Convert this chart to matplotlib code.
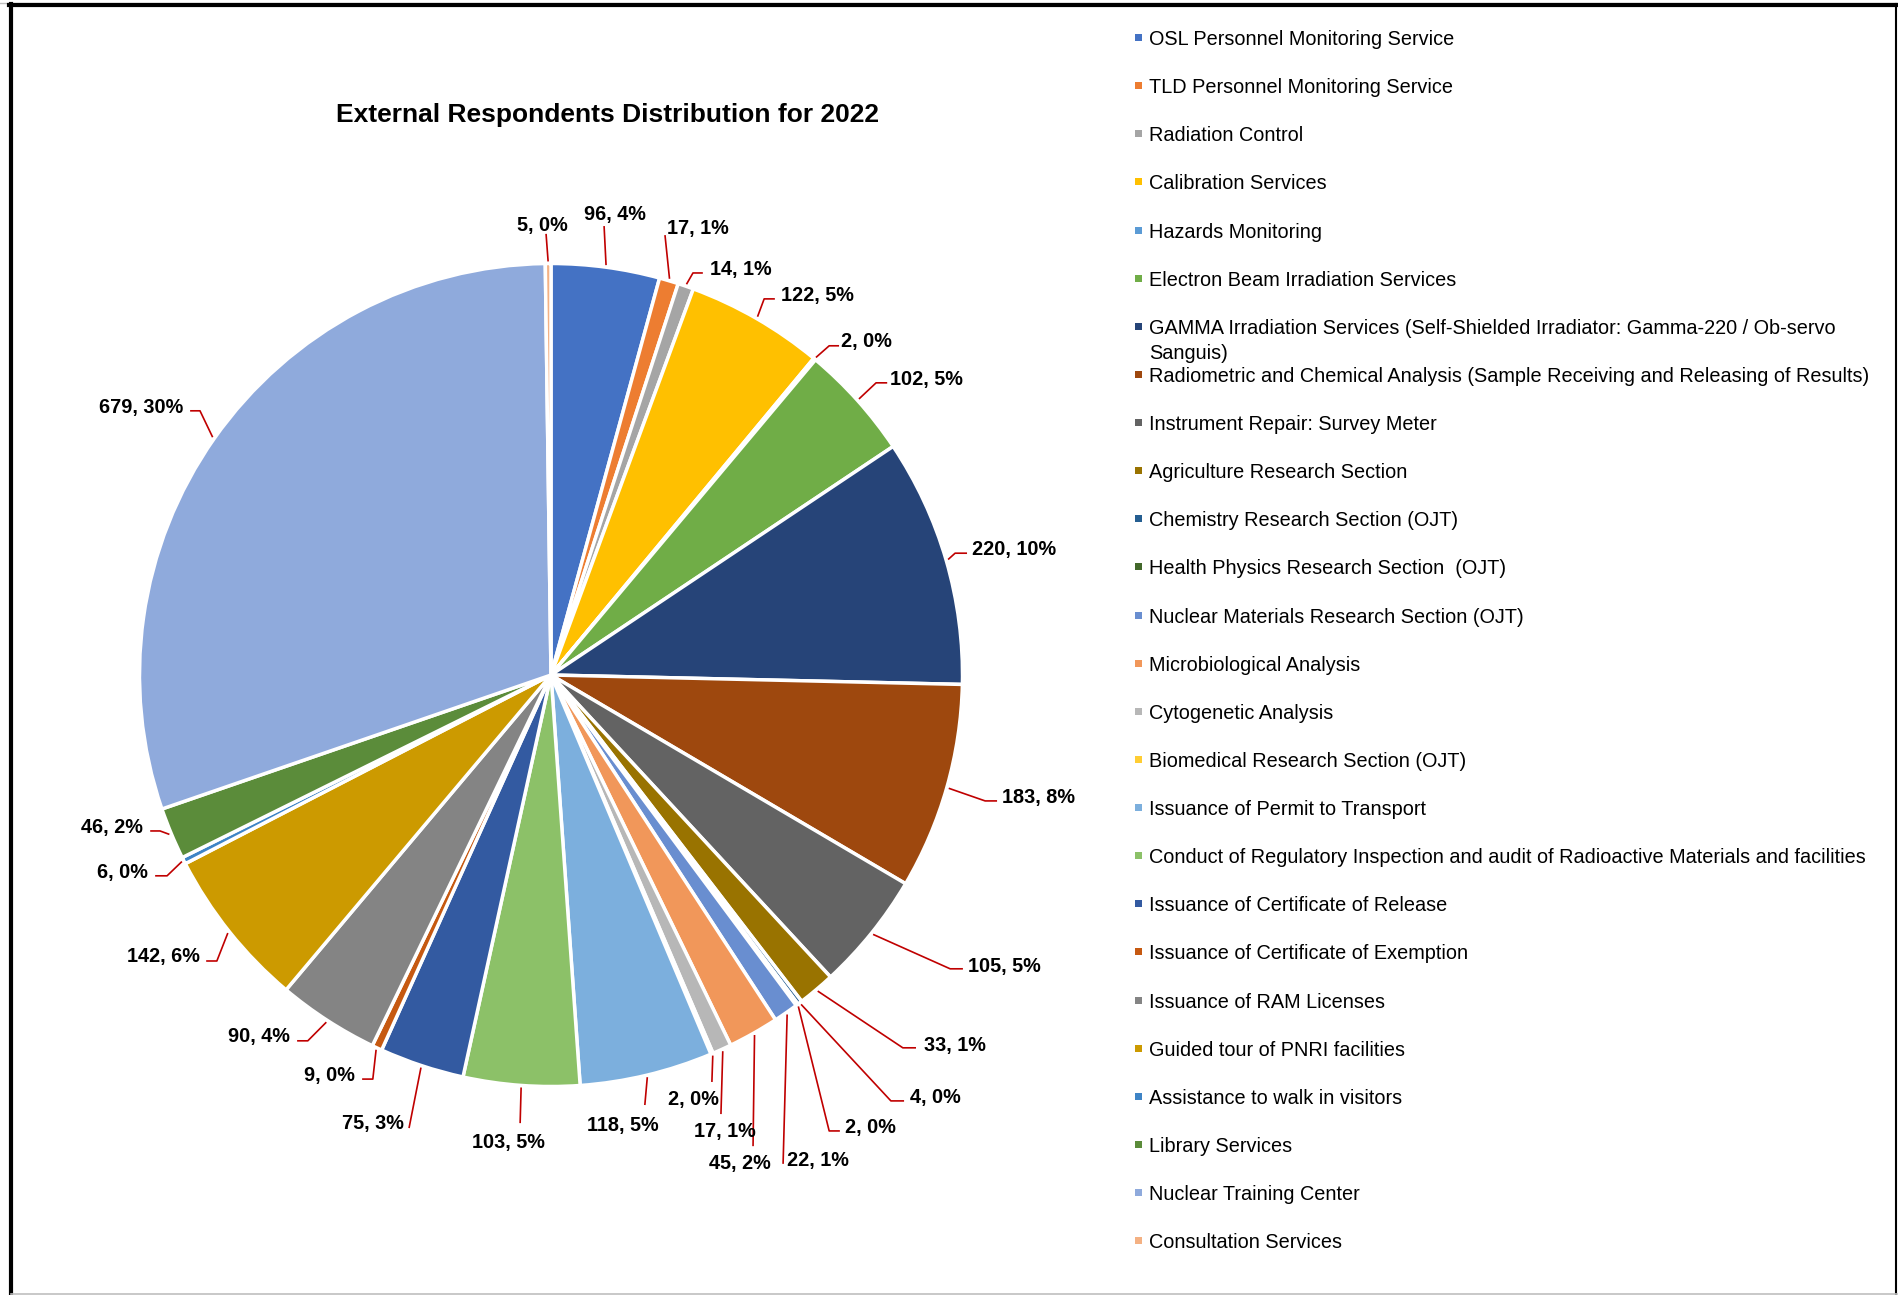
import math
import matplotlib
matplotlib.use("Agg")
import matplotlib.pyplot as plt
from matplotlib.lines import Line2D
from matplotlib.patches import Rectangle

plt.rcParams['font.family'] = ['Liberation Sans Narrow', 'Liberation Sans', 'DejaVu Sans']

title = "External Respondents Distribution for 2022"

services = [
    "OSL Personnel Monitoring Service",
    "TLD Personnel Monitoring Service",
    "Radiation Control",
    "Calibration Services",
    "Hazards Monitoring",
    "Electron Beam Irradiation Services",
    "GAMMA Irradiation Services (Self-Shielded Irradiator: Gamma-220 / Ob-servo\nSanguis)",
    "Radiometric and Chemical Analysis (Sample Receiving and Releasing of Results)",
    "Instrument Repair: Survey Meter",
    "Agriculture Research Section",
    "Chemistry Research Section (OJT)",
    "Health Physics Research Section  (OJT)",
    "Nuclear Materials Research Section (OJT)",
    "Microbiological Analysis",
    "Cytogenetic Analysis",
    "Biomedical Research Section (OJT)",
    "Issuance of Permit to Transport",
    "Conduct of Regulatory Inspection and audit of Radioactive Materials and facilities",
    "Issuance of Certificate of Release",
    "Issuance of Certificate of Exemption",
    "Issuance of RAM Licenses",
    "Guided tour of PNRI facilities",
    "Assistance to walk in visitors",
    "Library Services",
    "Nuclear Training Center",
    "Consultation Services",
]

respondents = [96, 17, 14, 122, 2, 102, 220, 183, 105, 33, 4, 2, 22,
               45, 17, 2, 118, 103, 75, 9, 90, 142, 6, 46, 679, 5]

colors = ["#4472C4", "#ED7D31", "#A5A5A5", "#FFC000", "#5B9BD5", "#70AD47",
          "#264478", "#9E480E", "#636363", "#997300", "#255E91", "#43682B",
          "#698ED0", "#F1975A", "#B7B7B7", "#FFCD33", "#7CAFDD", "#8CC168",
          "#335AA1", "#C65911", "#848484", "#CC9A00", "#3E84C6", "#5B8C3A",
          "#8FAADC", "#F4B183"]

# label placement in pie-radius units: text anchor, alignment, leader points after the wedge edge
label_pos = [
    (0.156, 1.106, "center", [(0.129, 1.091)]),
    (0.282, 1.072, "left", [(0.277, 1.069)]),
    (0.386, 0.972, "left", [(0.345, 0.977), (0.369, 0.977)]),
    (0.559, 0.909, "left", [(0.518, 0.914), (0.544, 0.914)]),
    (0.705, 0.797, "left", [(0.676, 0.800), (0.700, 0.800)]),
    (0.824, 0.705, "left", [(0.790, 0.710), (0.817, 0.710)]),
    (1.023, 0.292, "left", [(0.982, 0.296), (1.011, 0.296)]),
    (1.096, -0.311, "left", [(1.055, -0.306), (1.084, -0.306)]),
    (1.013, -0.722, "left", [(0.970, -0.714), (1.001, -0.714)]),
    (0.906, -0.914, "left", [(0.855, -0.906), (0.887, -0.906)]),
    (0.872, -1.040, "left", [(0.826, -1.035), (0.858, -1.035)]),
    (0.714, -1.113, "left", [(0.676, -1.108), (0.702, -1.108)]),
    (0.574, -1.193, "left", [(0.564, -1.188)]),
    (0.459, -1.200, "center", [(0.491, -1.145)]),
    (0.423, -1.123, "center", [(0.413, -1.067)]),
    (0.345, -1.045, "center", [(0.391, -0.989)]),
    (0.175, -1.108, "center", [(0.228, -1.045)]),
    (-0.104, -1.149, "center", [(-0.075, -1.089)]),
    (-0.357, -1.103, "right", [(-0.345, -1.101)]),
    (-0.476, -0.987, "right", [(-0.433, -0.982), (-0.459, -0.982)]),
    (-0.634, -0.892, "right", [(-0.591, -0.889), (-0.617, -0.889)]),
    (-0.853, -0.697, "right", [(-0.812, -0.695), (-0.838, -0.695)]),
    (-0.979, -0.493, "right", [(-0.933, -0.488), (-0.962, -0.488)]),
    (-0.991, -0.384, "right", [(-0.950, -0.379), (-0.974, -0.379)]),
    (-0.894, 0.637, "right", [(-0.853, 0.642), (-0.877, 0.642)]),
    (-0.021, 1.079, "center", [(-0.012, 1.072)]),
]

W, H = 1898, 1295
cx, cy, R = 551, 675, 411.5

fig = plt.figure(figsize=(W / 100, H / 100), dpi=100)
ax = fig.add_axes([0, 0, 1, 1])

wedges, _ = ax.pie(respondents, colors=colors, startangle=90, counterclock=False,
                   radius=1, wedgeprops=dict(edgecolor="white", linewidth=2.5))
ax.set_xlim(-cx / R, (W - cx) / R)
ax.set_ylim((cy - H) / R, cy / R)
ax.set_aspect("equal")
ax.axis("off")

total = sum(respondents)
for w, v, (tx, ty, ha, path) in zip(wedges, respondents, label_pos):
    a = math.radians((w.theta1 + w.theta2) / 2)
    xs = [1.005 * math.cos(a)] + [p[0] for p in path]
    ys = [1.005 * math.sin(a)] + [p[1] for p in path]
    ax.plot(xs, ys, color="#C00000", lw=1.2, solid_capstyle="butt")
    ax.text(tx, ty, f"{v}, {100 * v / total:.0f}%", ha=ha, va="baseline",
            fontsize=14.3, fontweight="bold", color="black")

fig.text(607 / W, 1 - 122 / H, title, ha="center", va="baseline",
         fontsize=19, fontweight="bold")

# legend column on the right; a wrapped name just runs into the next row
for i, (name, c) in enumerate(zip(services, colors)):
    ym = 37.5 + i * 48.13
    fig.patches.append(Rectangle((1135 / W, 1 - (ym + 3.5) / H), 7 / W, 7 / H,
                                 transform=fig.transFigure, facecolor=c,
                                 edgecolor="none"))
    for j, line in enumerate(name.split("\n")):
        fig.text(1149 / W, 1 - (ym + 25 * j) / H, line, ha="left",
                 va="center_baseline", fontsize=14.3)

# chart border
def border(x0, y0, x1, y1, color, lw):
    fig.add_artist(Line2D([x0 / W, x1 / W], [1 - y0 / H, 1 - y1 / H],
                          transform=fig.transFigure, color=color, lw=lw))

border(0, 2.5, W, 2.5, "#BFBFBF", 1)
border(9, 5.3, 1897, 5.3, "black", 3)
border(11.3, 4, 11.3, 1295, "black", 3)
border(1896, 4, 1896, 1295, "black", 1.5)
border(11, 1294, 1897, 1294, "#BFBFBF", 1.2)

fig.savefig("out.png", dpi=100)
